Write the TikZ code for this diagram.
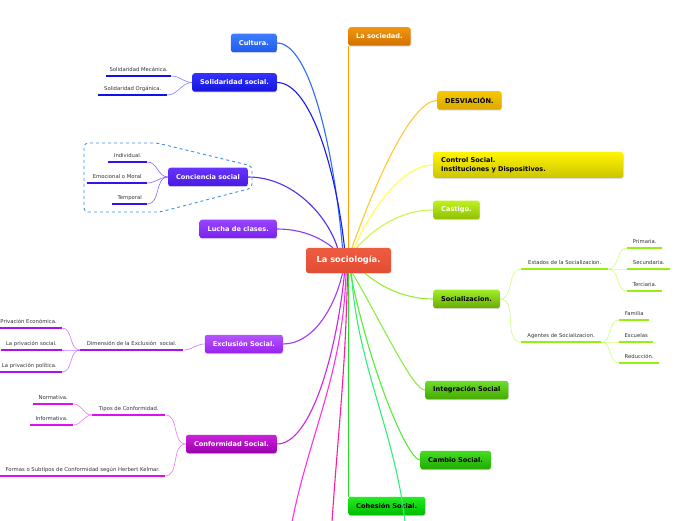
\documentclass[tikz,border=0pt]{standalone}
\usepackage{fontspec}
\setmainfont{DejaVu Sans}
\usetikzlibrary{shadows,backgrounds}

\definecolor{rootA}{HTML}{EE5C40}\definecolor{rootB}{HTML}{E34C33}
\definecolor{cultA}{HTML}{3D7DFF}\definecolor{cultB}{HTML}{1F5BEE}\definecolor{cultL}{HTML}{2F6BFF}
\definecolor{solidA}{HTML}{3333FF}\definecolor{solidB}{HTML}{1414DD}\definecolor{solidL}{HTML}{1A1AF0}
\definecolor{concA}{HTML}{6633FF}\definecolor{concB}{HTML}{4A1AE0}\definecolor{concL}{HTML}{5A2BF0}
\definecolor{luchaA}{HTML}{9944FF}\definecolor{luchaB}{HTML}{7A22EE}\definecolor{luchaL}{HTML}{8A3BF5}
\definecolor{exclA}{HTML}{B455FF}\definecolor{exclB}{HTML}{9922EE}\definecolor{exclL}{HTML}{A63AF5}
\definecolor{confA}{HTML}{CC22DD}\definecolor{confB}{HTML}{9900AA}\definecolor{confL}{HTML}{D022E8}
\definecolor{sdadA}{HTML}{F0960F}\definecolor{sdadB}{HTML}{D27200}\definecolor{sdadL}{HTML}{FF9A00}
\definecolor{desvA}{HTML}{F7C800}\definecolor{desvB}{HTML}{D8A800}\definecolor{desvL}{HTML}{FFC933}
\definecolor{ctrlA}{HTML}{FFF500}\definecolor{ctrlB}{HTML}{CCC400}\definecolor{ctrlL}{HTML}{FFFF4D}
\definecolor{castA}{HTML}{BFF020}\definecolor{castB}{HTML}{90C000}\definecolor{castL}{HTML}{CCF54D}
\definecolor{socizA}{HTML}{9FEE2A}\definecolor{socizB}{HTML}{6AAA00}\definecolor{socizL}{HTML}{99EE33}
\definecolor{integA}{HTML}{6EDD2A}\definecolor{integB}{HTML}{44AA00}\definecolor{integL}{HTML}{88EE44}
\definecolor{cambA}{HTML}{44DD22}\definecolor{cambB}{HTML}{22AA00}\definecolor{cambL}{HTML}{55EE33}
\definecolor{cohesA}{HTML}{22EE22}\definecolor{cohesB}{HTML}{00BB00}\definecolor{cohesL}{HTML}{22DD22}
\definecolor{pinkA}{HTML}{FF33DD}\definecolor{pinkB}{HTML}{FF1AA0}\definecolor{greenoff}{HTML}{33EE77}
\definecolor{solU}{HTML}{1111EE}\definecolor{solT}{HTML}{8080FF}
\definecolor{concU}{HTML}{3A11EE}\definecolor{concT}{HTML}{8866FF}
\definecolor{exclU}{HTML}{AA11EE}\definecolor{exclT}{HTML}{CC77FF}
\definecolor{confU}{HTML}{DD11EE}\definecolor{confT}{HTML}{EE77FF}
\definecolor{socU}{HTML}{99EE11}\definecolor{socT}{HTML}{CCFF80}
\definecolor{frame}{HTML}{3D8FEA}

\begin{document}
\begin{tikzpicture}[
  x=1pt, y=1pt,
  topic/.style={rounded corners=2.5pt, inner xsep=8pt, inner ysep=0pt, minimum height=18.5pt, font=\fontsize{6.6}{8.6}\selectfont\bfseries, text=white, drop shadow={shadow xshift=0.6pt, shadow yshift=-0.9pt, opacity=0.25}},
  dark/.style={text=black},
  leaf/.style={inner xsep=2pt, inner ysep=3.2pt, text height=3.8pt, text depth=1pt, font=\fontsize{5.3}{6}\selectfont, text=black!80},
  ul/.style={line width=1.7pt},
  link/.style={line width=1.1pt},
  twig/.style={line width=0.6pt}
]
  \useasboundingbox (0,0) rectangle (696,520);
  \clip (0,0) rectangle (696,520);

  \node[topic, top color=rootA, bottom color=rootB, minimum height=25pt, inner xsep=10.5pt, font=\fontsize{8.3}{9}\selectfont\bfseries] (root) at (348.5,259.5) {La sociología.};

  \node[topic, top color=cultA, bottom color=cultB, anchor=east] (cult) at (277,477) {Cultura.};
  \node[topic, top color=solidA, bottom color=solidB, anchor=east] (solid) at (277,437.5) {Solidaridad social.};
  \node[topic, top color=concA, bottom color=concB, anchor=east] (conc) at (248,343) {Conciencia social};
  \node[topic, top color=luchaA, bottom color=luchaB, anchor=east] (lucha) at (277,291) {Lucha de clases.};
  \node[topic, top color=exclA, bottom color=exclB, anchor=east] (excl) at (283,176) {Exclusión Social.};
  \node[topic, top color=confA, bottom color=confB, anchor=east] (conf) at (277,76) {Conformidad Social.};

  \node[topic, top color=sdadA, bottom color=sdadB, anchor=west] (sdad) at (348,483.5) {La sociedad.};
  \node[topic, dark, top color=desvA, bottom color=desvB, anchor=west] (desv) at (437,419.5) {DESVIACIÓN.};
  \node[topic, dark, top color=ctrlA, bottom color=ctrlB, anchor=west, minimum height=26pt, text width=174pt, align=left] (ctrl) at (433,355) {Control Social.\\Instituciones y Dispositivos.};
  \node[topic, top color=castA, bottom color=castB, anchor=west] (cast) at (433,310) {Castigo.};
  \node[topic, dark, top color=socizA, bottom color=socizB, anchor=west] (sociz) at (433,221) {Socializacion.};
  \node[topic, dark, top color=integA, bottom color=integB, anchor=west] (integ) at (425,130) {Integración Social};
  \node[topic, dark, top color=cambA, bottom color=cambB, anchor=west] (camb) at (420,60) {Cambio Social.};
  \node[topic, dark, top color=cohesA, bottom color=cohesB, anchor=west] (cohes) at (348,14) {Cohesión Social.};

  \coordinate (offa) at (292,-2);
  \coordinate (offb) at (332,-2);
  \coordinate (offc) at (405,-2);

  \begin{scope}[on background layer]
  \fill[white] (0,0) rectangle (696,520);
  \draw[link, cultL] ([xshift=-6pt]root.north) .. controls +(-8,92) and +(34,0) .. (cult.east);
  \draw[link, solidL] ([xshift=-4pt]root.north) .. controls +(-8,75) and +(34,0) .. (solid.east);
  \draw[link, concL] ([xshift=-11pt]root.north) .. controls +(-10,32) and +(45,0) .. (conc.east);
  \draw[link, luchaL] ([xshift=-15.5pt]root.north) .. controls +(-10,8) and +(28,0) .. (lucha.east);
  \draw[link, sdadL] (root.north) -- (root.north |- sdad.south);
  \draw[link, desvL] ([xshift=3.5pt]root.north) .. controls +(25,70) and +(-25,0) .. (desv.west);
  \draw[link, ctrlL] ([xshift=5.5pt]root.north) .. controls +(18,40) and +(-30,0) .. (ctrl.west);
  \draw[link, castL] ([xshift=8pt]root.north) .. controls +(20,22) and +(-30,0) .. (cast.west);

  \draw[link, exclL] ([xshift=-6pt]root.south) .. controls +(-8,-35) and +(30,0) .. (excl.east);
  \draw[link, confL] ([xshift=-4pt]root.south) .. controls +(-8,-80) and +(34,0) .. (conf.east);
  \draw[link, pinkA] ([xshift=-2.5pt]root.south) .. controls +(-3,-100) and +(18,90) .. (offa);
  \draw[link, pinkB] ([xshift=-1pt]root.south) .. controls +(-2,-100) and +(6,90) .. (offb);
  \draw[link, cambL] ([xshift=2pt]root.south) .. controls +(20,-100) and +(-12,0) .. (camb.west);
  \draw[link, integL] ([xshift=4pt]root.south) .. controls +(32,-55) and +(-12,0) .. (integ.west);
  \draw[link, socizL] ([xshift=14pt, yshift=2pt]root.south) .. controls +(20,-18) and +(-25,0) .. (sociz.west);
  \draw[link, cohesL] (root.south) -- (root.south |- cohes.north);
  \end{scope}
  \draw[link, greenoff] ([xshift=3pt]root.south) .. controls +(5,-90) and +(-10,90) .. (offc);

  \draw[frame, line width=0.9pt, dashed, rounded corners=4pt] (157,377) -- (84,377) -- (84,308) -- (160,308) -- (252,332) -- (252,354) -- cycle;

  \node[leaf, anchor=south west, minimum width=65pt] (sm) at (106,444) {Solidaridad Mecánica.};
  \node[leaf, anchor=south west, minimum width=69pt] (so) at (98,425) {Solidaridad Orgánica.};
  \draw[ul, solU] (sm.south west) -- (sm.south east);
  \draw[ul, solU] (so.south west) -- (so.south east);
  \draw[twig, solT] (sm.south east) to[out=0, in=180] (solid.west);
  \draw[twig, solT] (so.south east) to[out=0, in=180] (solid.west);

  \node[leaf, anchor=south west, minimum width=39pt] (ind) at (108,358) {Individual.};
  \node[leaf, anchor=south west, minimum width=60pt] (emo) at (87,337) {Emocional o Moral};
  \node[leaf, anchor=south west, minimum width=35pt] (tem) at (112,316) {Temporal};
  \draw[ul, concU] (ind.south west) -- (ind.south east);
  \draw[ul, concU] (emo.south west) -- (emo.south east);
  \draw[ul, concU] (tem.south west) -- (tem.south east);
  \draw[twig, concT] (ind.south east) to[out=0, in=180] (conc.west);
  \draw[twig, concT] (emo.south east) to[out=0, in=180] (conc.west);
  \draw[twig, concT] (tem.south east) to[out=0, in=180] (conc.west);

  \node[leaf, anchor=south west, minimum width=103pt] (dim) at (80,170) {Dimensión de la Exclusión \ social.};
  \node[leaf, anchor=south east, inner xsep=5pt] (pe) at (62,192) {Privación Económica.};
  \node[leaf, anchor=south east, inner xsep=5pt] (ps) at (62,170) {La privación social.};
  \node[leaf, anchor=south east, inner xsep=5pt] (pp) at (62,148) {La privación política.};
  \draw[ul, exclU] (dim.south west) -- (dim.south east);
  \draw[ul, exclU] (pe.south west) -- (pe.south east);
  \draw[ul, exclU] (ps.south west) -- (ps.south east);
  \draw[ul, exclU] (pp.south west) -- (pp.south east);
  \draw[twig, exclT] (dim.south east) to[out=0, in=180] (excl.west);
  \draw[twig, exclT] (pe.south east) to[out=0, in=180] (dim.south west);
  \draw[twig, exclT] (ps.south east) to[out=0, in=180] (dim.south west);
  \draw[twig, exclT] (pp.south east) to[out=0, in=180] (dim.south west);

  \node[leaf, anchor=south west, minimum width=73pt] (tc) at (92,105) {Tipos de Conformidad.};
  \node[leaf, anchor=south west, minimum width=40pt] (nor) at (33,116) {Normativa.};
  \node[leaf, anchor=south west, minimum width=43pt] (inf) at (30,95) {Informativa.};
  \node[leaf, anchor=south east, inner xsep=5pt] (hk) at (165,44) {Formas o Subtipos de Conformidad según Herbert Kelmar.};
  \draw[ul, confU] (tc.south west) -- (tc.south east);
  \draw[ul, confU] (nor.south west) -- (nor.south east);
  \draw[ul, confU] (inf.south west) -- (inf.south east);
  \draw[ul, confU] (hk.south west) -- (hk.south east);
  \draw[twig, confT] (tc.south east) to[out=0, in=180] (conf.west);
  \draw[twig, confT] (hk.south east) to[out=0, in=180] (conf.west);
  \draw[twig, confT] (nor.south east) to[out=0, in=180] (tc.south west);
  \draw[twig, confT] (inf.south east) to[out=0, in=180] (tc.south west);

  \node[leaf, anchor=south west, minimum width=87pt] (est) at (521,251) {Estados de la Socializacion.};
  \node[leaf, anchor=south west, minimum width=80pt] (age) at (521,178) {Agentes de Socializacion.};
  \node[leaf, anchor=south west, minimum width=35pt] (pri) at (627,272) {Primaria.};
  \node[leaf, anchor=south west, minimum width=43pt] (sec) at (627,251) {Secundaria.};
  \node[leaf, anchor=south west, minimum width=35pt] (ter) at (627,229) {Terciaria.};
  \node[leaf, anchor=south west, minimum width=30pt] (fam) at (619,200) {Familia};
  \node[leaf, anchor=south west, minimum width=34pt] (esc) at (619,178) {Escuelas};
  \node[leaf, anchor=south west, minimum width=40pt] (red) at (619,157) {Reducción.};
  \draw[ul, socU] (est.south west) -- (est.south east);
  \draw[ul, socU] (age.south west) -- (age.south east);
  \draw[ul, socU] (pri.south west) -- (pri.south east);
  \draw[ul, socU] (sec.south west) -- (sec.south east);
  \draw[ul, socU] (ter.south west) -- (ter.south east);
  \draw[ul, socU] (fam.south west) -- (fam.south east);
  \draw[ul, socU] (esc.south west) -- (esc.south east);
  \draw[ul, socU] (red.south west) -- (red.south east);
  \draw[twig, socT] (sociz.east) to[out=0, in=180] (est.south west);
  \draw[twig, socT] (sociz.east) to[out=0, in=180] (age.south west);
  \draw[twig, socT] (est.south east) to[out=0, in=180] (pri.south west);
  \draw[twig, socT] (est.south east) to[out=0, in=180] (sec.south west);
  \draw[twig, socT] (est.south east) to[out=0, in=180] (ter.south west);
  \draw[twig, socT] (age.south east) to[out=0, in=180] (fam.south west);
  \draw[twig, socT] (age.south east) to[out=0, in=180] (esc.south west);
  \draw[twig, socT] (age.south east) to[out=0, in=180] (red.south west);
\end{tikzpicture}
\end{document}
